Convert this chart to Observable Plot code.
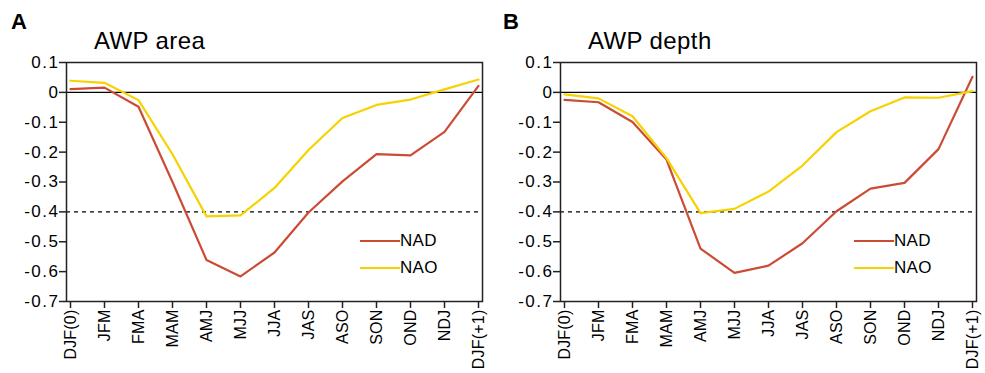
<!DOCTYPE html>
<html><head><meta charset="utf-8">
<script src="https://cdn.jsdelivr.net/npm/d3@7"></script>
<script src="https://cdn.jsdelivr.net/npm/@observablehq/plot@0.6"></script>
<style>
body{margin:0;background:#fff;font-family:"Liberation Sans",Arial,sans-serif;}
#wrap{position:relative;width:985px;height:373px;overflow:hidden;}
.panel{position:absolute;top:0;}
.lab{position:absolute;font-weight:bold;font-size:22px;color:#000;}
.ttl{position:absolute;font-size:24px;color:#000;letter-spacing:0.4px;}
.leg{position:absolute;font-size:17px;display:flex;align-items:center;height:18px;letter-spacing:0.3px;}
.leg span.l{display:inline-block;width:40px;height:2px;}
</style></head><body>
<div id="wrap"></div>
<script>
const seasons = ["DJF(0)","JFM","FMA","MAM","AMJ","MJJ","JJA","JAS","ASO","SON","OND","NDJ","DJF(+1)"];
const yTicks = [0.1, 0, -0.1, -0.2, -0.3, -0.4, -0.5, -0.6, -0.7];
const seriesNames = ["NAD", "NAO"];
const colors = ["#cc4b34", "#f6d200"];
// Panel A: AWP area
const areaNAD = [0.011, 0.016, -0.048, -0.30, -0.561, -0.616, -0.536, -0.402, -0.298, -0.207, -0.211, -0.132, 0.022];
const areaNAO = [0.039, 0.032, -0.026, -0.207, -0.415, -0.412, -0.32, -0.193, -0.086, -0.042, -0.024, 0.01, 0.043];
// Panel B: AWP depth
const depthNAD = [-0.025, -0.033, -0.099, -0.225, -0.523, -0.604, -0.58, -0.505, -0.398, -0.322, -0.303, -0.19, 0.052];
const depthNAO = [-0.007, -0.02, -0.08, -0.22, -0.404, -0.39, -0.332, -0.245, -0.133, -0.063, -0.017, -0.018, 0.004];
const thresholdLine = -0.4;

const panels = [
  {letter:"A", title:"AWP area", nad:areaNAD, nao:areaNAO, left:0, width:492, ml:66, mr:10},
  {letter:"B", title:"AWP depth", nad:depthNAD, nao:depthNAO, left:492, width:493, ml:68, mr:9}
];

const wrap = document.getElementById("wrap");
for (const p of panels) {
  const data = [];
  seasons.forEach((s,i)=>{ data.push({s, v:p.nad[i], k:"NAD"}); data.push({s, v:p.nao[i], k:"NAO"}); });
  const chart = Plot.plot({
    width: p.width, height: 373,
    marginLeft: p.ml, marginRight: p.mr, marginTop: 62, marginBottom: 72,
    style: {fontFamily: '"Liberation Sans", Arial, sans-serif', fontSize: "16px", color: "#000", background: "transparent", overflow: "visible"},
    x: {type: "point", domain: seasons, padding: 0},
    y: {domain: [-0.7, 0.1]},
    color: {domain: seriesNames, range: colors},
    marks: [
      Plot.ruleY([0], {stroke: "#000", strokeWidth: 1.4}),
      Plot.ruleY([thresholdLine], {stroke: "#000", strokeWidth: 1.3, strokeDasharray: "4,4"}),
      Plot.line(data, {x: "s", y: "v", z: "k", stroke: "k", strokeWidth: 2.2}),
      Plot.frame({stroke: "#222", strokeWidth: 1.5}),
      Plot.axisY({ticks: yTicks, tickSize: 7, tickPadding: 0, tickFormat: d => d === 0 ? "0" : d.toFixed(1), label: null, stroke: "#222", strokeWidth: 1.5}),
      Plot.axisX({tickSize: 7, tickRotate: -90, tickPadding: 1, label: null, stroke: "#222", strokeWidth: 1.5})
    ]
  });
  chart.classList.add("panel");
  chart.style.left = p.left + "px";
  chart.querySelectorAll("text").forEach(t => {
    const txt = t.textContent;
    if (seasons.includes(txt)) { t.style.fontSize = "16px"; t.style.letterSpacing = "0.2px"; }
    else { t.style.fontSize = "17px"; t.style.letterSpacing = "1.5px"; }
  });
  wrap.appendChild(chart);
  const lab = document.createElement("div"); lab.className = "lab"; lab.textContent = p.letter;
  lab.style.left = (p.left + 11) + "px"; lab.style.top = "9px"; wrap.appendChild(lab);
  const t = document.createElement("div"); t.className = "ttl"; t.textContent = p.title;
  t.style.left = (p.left + 94 + (p.letter === "B" ? 2 : 0)) + "px"; t.style.top = "27px"; wrap.appendChild(t);
  seriesNames.forEach((n,i)=>{
    const lg = document.createElement("div"); lg.className = "leg";
    lg.innerHTML = `<span class="l" style="background:${colors[i]}"></span><span>${n}</span>`;
    lg.style.left = (p.left + p.width - p.mr - 122) + "px";
    lg.style.top = (232 + i*27) + "px";
    wrap.appendChild(lg);
  });
}
</script>
</body></html>
